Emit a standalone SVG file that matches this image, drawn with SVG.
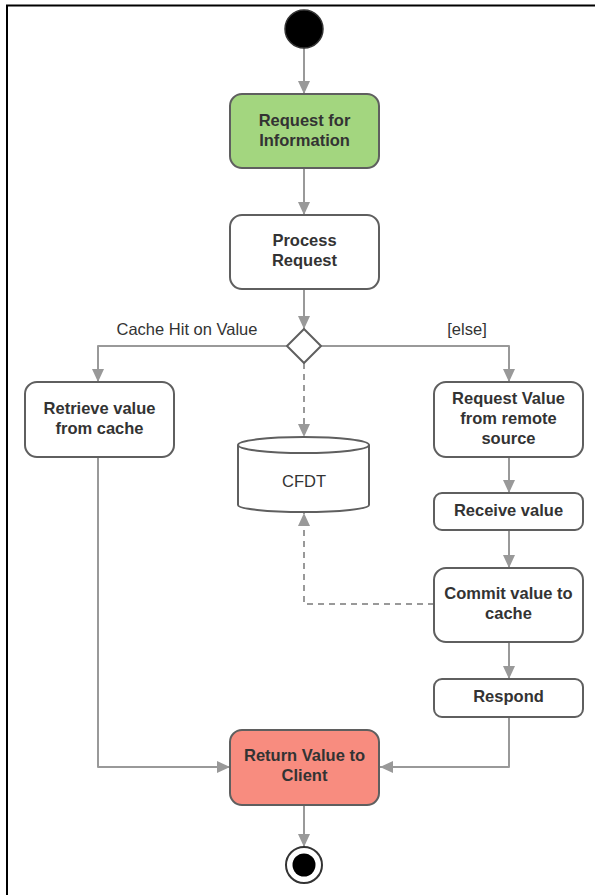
<svg xmlns="http://www.w3.org/2000/svg" width="595" height="895" viewBox="0 0 595 895">
  <style>
    .box { fill: #ffffff; stroke: #5f5f5f; stroke-width: 2; }
    .start { fill: #a3d67f; }
    .finish { fill: #f88c7f; }
    .lbl { font-family: "Liberation Sans", Arial, sans-serif; font-size: 16.5px; font-weight: bold; fill: #333333; text-anchor: middle; }
    .plain { font-family: "Liberation Sans", Arial, sans-serif; font-size: 16.5px; fill: #333333; text-anchor: middle; }
    .flow { fill: none; stroke: #999999; stroke-width: 2; stroke-linejoin: round; marker-end: url(#arrow); }
    .dash { stroke-dasharray: 6 5; }
  </style>
  <defs>
    <marker id="arrow" markerUnits="userSpaceOnUse" markerWidth="14" markerHeight="12" refX="13" refY="6" orient="auto">
      <path d="M0,0 L13,6 L0,12 Z" fill="#999999"/>
    </marker>
  </defs>

  <rect width="595" height="895" fill="#ffffff"/>
  <!-- frame edges -->
  <path d="M7,895 V5.5 H595" fill="none" stroke="#000000" stroke-width="2"/>

  <g id="connectors">
    <path class="flow" d="M304,48 V94"/>
    <path class="flow" d="M304,168 V215"/>
    <path class="flow" d="M304,289 V329"/>
    <path class="flow" d="M287,346 H98 V382"/>
    <path class="flow" d="M321,346 H509 V382"/>
    <path class="flow dash" d="M304,363 V437"/>
    <path class="flow" d="M509,457 V493"/>
    <path class="flow" d="M509,530 V568"/>
    <path class="flow dash" d="M434,604 H304 V513"/>
    <path class="flow" d="M509,642 V679"/>
    <path class="flow" d="M98,457 V767 H230"/>
    <path class="flow" d="M509,717 V767 H380"/>
    <path class="flow" d="M304,805 V847"/>
    <text class="plain" x="187" y="335">Cache Hit on Value</text>
    <text class="plain" x="467" y="335">[else]</text>
  </g>

  <g id="initial">
    <circle cx="304" cy="29" r="19" fill="#000000" stroke="#333333" stroke-width="1.5"/>
  </g>

  <g id="request-info">
    <rect class="box start" x="230" y="94" width="149" height="74" rx="12"/>
    <text class="lbl" x="304.5" y="126">Request for</text>
    <text class="lbl" x="304.5" y="146">Information</text>
  </g>

  <g id="process-request">
    <rect class="box" x="230" y="215" width="149" height="74" rx="12"/>
    <text class="lbl" x="304.5" y="246">Process</text>
    <text class="lbl" x="304.5" y="266">Request</text>
  </g>

  <g id="decision">
    <path class="box" d="M304,329 L321,346 L304,363 L287,346 Z" stroke-linejoin="round"/>
  </g>

  <g id="retrieve-cache">
    <rect class="box" x="25" y="382" width="149" height="75" rx="12"/>
    <text class="lbl" x="99.5" y="414">Retrieve value</text>
    <text class="lbl" x="99.5" y="434">from cache</text>
  </g>

  <g id="request-remote">
    <rect class="box" x="434" y="382" width="149" height="75" rx="12"/>
    <text class="lbl" x="508.5" y="404">Request Value</text>
    <text class="lbl" x="508.5" y="424">from remote</text>
    <text class="lbl" x="508.5" y="444">source</text>
  </g>

  <g id="cfdt">
    <path class="box" d="M238,445 V505 A65.5,7 0 0 0 369,505 V445"/>
    <ellipse class="box" cx="303.5" cy="445" rx="65.5" ry="8"/>
    <text class="plain" x="304" y="487">CFDT</text>
  </g>

  <g id="receive-value">
    <rect class="box" x="434" y="493" width="149" height="37" rx="8"/>
    <text class="lbl" x="508.5" y="516">Receive value</text>
  </g>

  <g id="commit-cache">
    <rect class="box" x="434" y="568" width="149" height="74" rx="12"/>
    <text class="lbl" x="508.5" y="599">Commit value to</text>
    <text class="lbl" x="508.5" y="619">cache</text>
  </g>

  <g id="respond">
    <rect class="box" x="434" y="679" width="149" height="38" rx="8"/>
    <text class="lbl" x="508.5" y="702">Respond</text>
  </g>

  <g id="return-client">
    <rect class="box finish" x="230" y="730" width="149" height="75" rx="12"/>
    <text class="lbl" x="304.5" y="761">Return Value to</text>
    <text class="lbl" x="304.5" y="781">Client</text>
  </g>

  <g id="final">
    <circle cx="304" cy="865" r="18" fill="#ffffff" stroke="#333333" stroke-width="2"/>
    <circle cx="304" cy="865" r="11.5" fill="#000000"/>
  </g>
</svg>
